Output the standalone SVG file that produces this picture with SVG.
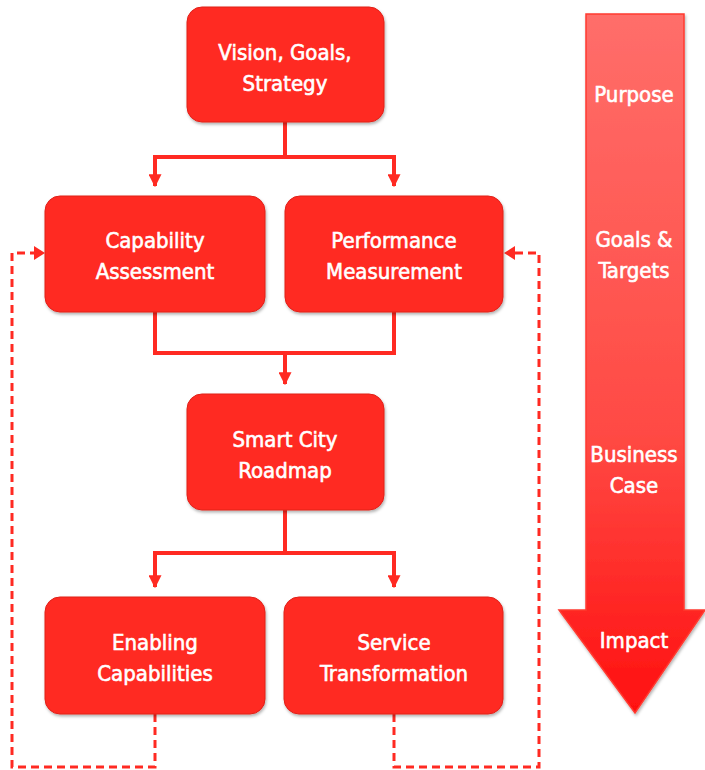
<svg xmlns="http://www.w3.org/2000/svg" width="705" height="770" viewBox="0 0 705 770">
<defs>
<linearGradient id="ag" x1="0" y1="0" x2="0" y2="1">
<stop offset="0" stop-color="#ff6e6a"/>
<stop offset="0.6" stop-color="#ff4a44"/>
<stop offset="1" stop-color="#ff1010"/>
</linearGradient>
<filter id="sh" x="-10%" y="-10%" width="120%" height="125%">
<feDropShadow dx="1" dy="2" stdDeviation="1.5" flood-color="#000" flood-opacity="0.3"/>
</filter>
<marker id="ahs" viewBox="0 0 10 10" refX="9" refY="5" markerWidth="13" markerHeight="13" orient="auto" markerUnits="userSpaceOnUse">
<path d="M0,0 L10,5 L0,10 Z" fill="#ff2a22"/>
</marker>
</defs>
<style>
.box{fill:#ff2a22;stroke:#e02018;stroke-width:1;filter:url(#sh)}
.t{font-family:"DejaVu Sans Condensed","Liberation Sans",sans-serif;font-size:22px;font-weight:normal;fill:#fff;stroke:#fff;stroke-width:0.6;text-anchor:middle}
.c{fill:none;stroke:#ff2a22;stroke-width:4}
.d{fill:none;stroke:#ff2a22;stroke-width:3;stroke-dasharray:8,5}
</style>
<g id="connectors">
<path class="c" d="M285,122 V157 M153,157 H396"/>
<path class="c" d="M155,157 V186" marker-end="url(#ahs)"/>
<path class="c" d="M394,157 V186" marker-end="url(#ahs)"/>
<path class="c" d="M155,312 V353 H394 V312"/>
<path class="c" d="M285,353 V384" marker-end="url(#ahs)"/>
<path class="c" d="M285,510 V553 M153,553 H396"/>
<path class="c" d="M155,553 V587" marker-end="url(#ahs)"/>
<path class="c" d="M394,553 V587" marker-end="url(#ahs)"/>
<path class="d" d="M155,714 V767 H12 V253 H36"/>
<path d="M34,246 L45,253 L34,260 Z" fill="#ff2a22"/>
<path class="d" d="M394,714 V767 H539 V253 H514"/>
<path d="M515,246 L504,253 L515,260 Z" fill="#ff2a22"/>
</g>
<g id="vision"><rect class="box" x="187" y="7" width="197" height="115" rx="15"/><text class="t" x="285" y="60">Vision, Goals,</text><text class="t" x="285" y="91">Strategy</text></g>
<g id="capability"><rect class="box" x="45" y="196" width="220" height="116" rx="15"/><text class="t" x="155" y="248">Capability</text><text class="t" x="155" y="279">Assessment</text></g>
<g id="performance"><rect class="box" x="285" y="196" width="218" height="116" rx="15"/><text class="t" x="394" y="248">Performance</text><text class="t" x="394" y="279">Measurement</text></g>
<g id="roadmap"><rect class="box" x="187" y="394" width="197" height="116" rx="15"/><text class="t" x="285" y="447">Smart City</text><text class="t" x="285" y="478">Roadmap</text></g>
<g id="enabling"><rect class="box" x="45" y="597" width="220" height="117" rx="15"/><text class="t" x="155" y="650">Enabling</text><text class="t" x="155" y="681">Capabilities</text></g>
<g id="service"><rect class="box" x="284" y="597" width="219" height="117" rx="15"/><text class="t" x="394" y="650">Service</text><text class="t" x="394" y="681">Transformation</text></g>
<g id="bigarrow">
<path d="M586,14 H684 V610 H705 L635,713 L559,610 H586 Z" fill="url(#ag)" stroke="#ff3a30" stroke-width="1.5" filter="url(#sh)"/>
<text class="t" x="634" y="102">Purpose</text>
<text class="t" x="634" y="247">Goals &amp;</text>
<text class="t" x="634" y="278">Targets</text>
<text class="t" x="634" y="462">Business</text>
<text class="t" x="634" y="493">Case</text>
<text class="t" x="634" y="648">Impact</text>
</g>
</svg>
